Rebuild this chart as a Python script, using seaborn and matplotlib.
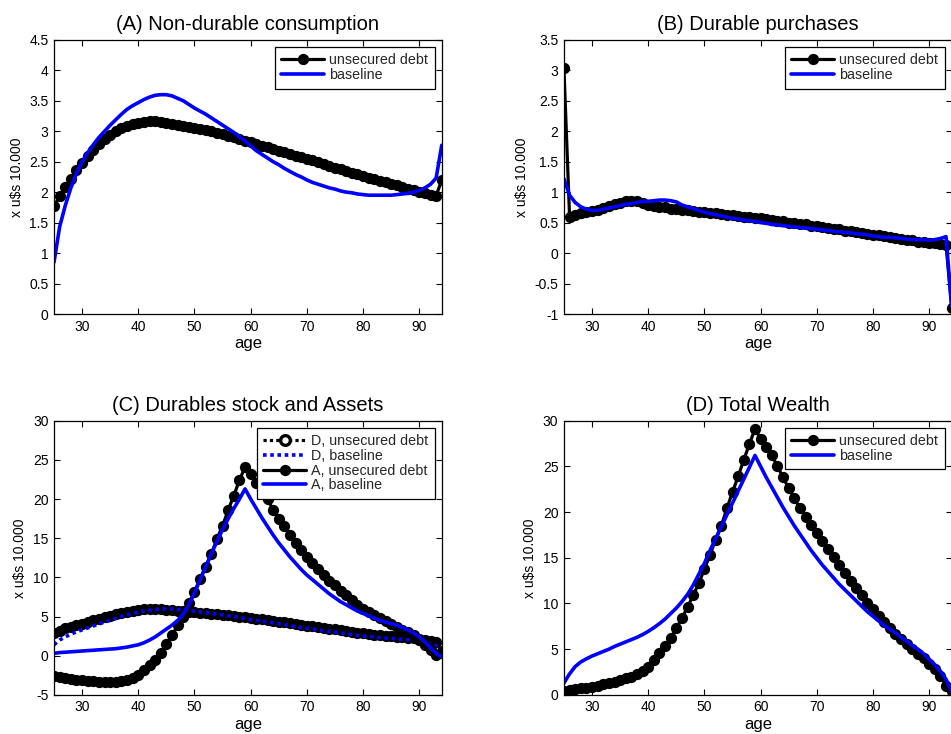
import numpy as np
import pandas as pd
import seaborn as sns
import matplotlib
matplotlib.use("Agg")
import matplotlib.pyplot as plt
from matplotlib.ticker import FuncFormatter, MultipleLocator

# Life-cycle profiles by age (values in units of 10,000 US$)
age = list(range(25, 95))

# (A) Non-durable consumption
nd_unsecured = [1.77, 1.93, 2.08, 2.22, 2.36, 2.48, 2.60, 2.70, 2.79, 2.87,
                2.94, 3.00, 3.05, 3.09, 3.12, 3.14, 3.15, 3.16, 3.16, 3.15,
                3.13, 3.12, 3.10, 3.09, 3.07, 3.06, 3.04, 3.02, 3.00, 2.97,
                2.95, 2.92, 2.90, 2.87, 2.84, 2.82, 2.79, 2.76, 2.74, 2.71,
                2.68, 2.66, 2.63, 2.60, 2.57, 2.55, 2.52, 2.49, 2.46, 2.43,
                2.40, 2.38, 2.35, 2.32, 2.29, 2.27, 2.24, 2.21, 2.19, 2.16,
                2.14, 2.11, 2.09, 2.06, 2.04, 2.01, 1.99, 1.96, 1.94, 2.20]
nd_baseline = [0.85, 1.43, 1.78, 2.07, 2.31, 2.50, 2.65, 2.78, 2.90, 3.00,
               3.10, 3.19, 3.28, 3.36, 3.42, 3.47, 3.52, 3.56, 3.59, 3.60,
               3.60, 3.58, 3.54, 3.50, 3.44, 3.38, 3.33, 3.28, 3.22, 3.16,
               3.10, 3.04, 2.98, 2.91, 2.84, 2.76, 2.68, 2.62, 2.56, 2.50,
               2.45, 2.39, 2.34, 2.29, 2.25, 2.20, 2.16, 2.13, 2.10, 2.07,
               2.05, 2.02, 2.00, 1.99, 1.97, 1.96, 1.95, 1.95, 1.95, 1.95,
               1.95, 1.96, 1.97, 1.98, 2.00, 2.03, 2.07, 2.13, 2.23, 2.77]

# (B) Durable purchases
dp_unsecured = [3.03, 0.60, 0.63, 0.65, 0.67, 0.69, 0.71, 0.74, 0.77, 0.80,
                0.83, 0.85, 0.86, 0.85, 0.82, 0.79, 0.77, 0.76, 0.75, 0.73,
                0.72, 0.71, 0.70, 0.69, 0.68, 0.67, 0.66, 0.65, 0.64, 0.63,
                0.62, 0.61, 0.60, 0.59, 0.58, 0.57, 0.56, 0.54, 0.53, 0.52,
                0.50, 0.49, 0.48, 0.47, 0.45, 0.44, 0.43, 0.41, 0.40, 0.39,
                0.37, 0.36, 0.35, 0.33, 0.32, 0.30, 0.29, 0.28, 0.26, 0.25,
                0.23, 0.22, 0.21, 0.19, 0.18, 0.17, 0.16, 0.15, 0.14, -0.90]
dp_baseline = [1.22, 0.95, 0.83, 0.76, 0.72, 0.70, 0.70, 0.72, 0.74, 0.76,
               0.78, 0.80, 0.81, 0.83, 0.85, 0.85, 0.86, 0.87, 0.87, 0.86,
               0.84, 0.79, 0.76, 0.73, 0.70, 0.67, 0.65, 0.63, 0.61, 0.59,
               0.57, 0.56, 0.54, 0.53, 0.52, 0.50, 0.49, 0.47, 0.46, 0.45,
               0.44, 0.43, 0.42, 0.41, 0.40, 0.39, 0.38, 0.37, 0.36, 0.35,
               0.34, 0.33, 0.32, 0.31, 0.30, 0.28, 0.27, 0.26, 0.26, 0.25,
               0.24, 0.23, 0.22, 0.22, 0.22, 0.21, 0.22, 0.24, 0.27, -0.88]

# (C) Durables stock (D) and assets (A)
d_unsecured = [2.90, 3.20, 3.50, 3.70, 3.90, 4.10, 4.30, 4.50, 4.70, 4.90,
               5.10, 5.30, 5.50, 5.60, 5.75, 5.85, 5.90, 5.95, 5.95, 5.90,
               5.85, 5.80, 5.75, 5.70, 5.60, 5.55, 5.50, 5.40, 5.35, 5.30,
               5.20, 5.15, 5.05, 5.00, 4.90, 4.85, 4.75, 4.65, 4.55, 4.45,
               4.35, 4.25, 4.15, 4.05, 3.95, 3.85, 3.75, 3.65, 3.55, 3.45,
               3.35, 3.25, 3.15, 3.05, 2.95, 2.85, 2.80, 2.70, 2.65, 2.55,
               2.50, 2.40, 2.35, 2.25, 2.20, 2.10, 2.00, 1.90, 1.80, 0.60]
d_baseline = [1.40, 2.00, 2.40, 2.75, 3.05, 3.30, 3.55, 3.80, 4.05, 4.30,
              4.50, 4.75, 5.00, 5.20, 5.40, 5.55, 5.70, 5.80, 5.90, 5.95,
              6.00, 5.95, 5.90, 5.85, 5.75, 5.70, 5.60, 5.50, 5.40, 5.30,
              5.20, 5.10, 5.00, 4.90, 4.75, 4.60, 4.50, 4.40, 4.30, 4.20,
              4.10, 3.95, 3.85, 3.70, 3.60, 3.50, 3.40, 3.30, 3.20, 3.10,
              3.00, 2.90, 2.80, 2.70, 2.60, 2.50, 2.45, 2.40, 2.30, 2.25,
              2.20, 2.15, 2.10, 2.05, 2.00, 1.90, 1.75, 1.55, 1.25, 0.70]
a_unsecured = [-2.60, -2.75, -2.90, -3.00, -3.10, -3.15, -3.22, -3.27, -3.30, -3.32,
               -3.32, -3.30, -3.22, -3.05, -2.80, -2.45, -1.85, -1.20, -0.55, 0.30,
               1.50, 2.60, 3.90, 5.00, 6.70, 8.15, 9.85, 11.30, 13.00, 14.90,
               16.60, 18.60, 20.45, 22.40, 24.10, 23.20, 22.00, 21.20, 20.00, 18.60,
               17.50, 16.50, 15.40, 14.40, 13.50, 12.60, 11.80, 11.10, 10.30, 9.60,
               9.00, 8.30, 7.70, 7.10, 6.50, 6.00, 5.60, 5.20, 4.80, 4.40,
               4.00, 3.70, 3.30, 3.00, 2.60, 2.00, 1.40, 0.70, 0.10, 0.40]
a_baseline = [0.30, 0.40, 0.45, 0.50, 0.55, 0.60, 0.65, 0.70, 0.75, 0.80,
              0.85, 0.90, 1.00, 1.10, 1.25, 1.40, 1.65, 2.00, 2.40, 2.90,
              3.40, 3.90, 4.50, 5.30, 6.50, 8.00, 9.70, 11.40, 13.00, 14.60,
              16.10, 17.50, 18.80, 20.00, 21.30, 20.00, 18.80, 17.60, 16.50, 15.40,
              14.40, 13.50, 12.60, 11.80, 11.00, 10.30, 9.70, 9.10, 8.50, 7.90,
              7.40, 6.90, 6.50, 6.10, 5.70, 5.40, 5.10, 4.80, 4.50, 4.30,
              4.10, 3.90, 3.60, 3.30, 2.90, 2.40, 1.80, 1.00, 0.30, -0.10]

# (D) Total wealth
w_unsecured = [0.45, 0.55, 0.62, 0.70, 0.80, 0.90, 1.02, 1.15, 1.30, 1.45,
               1.62, 1.80, 2.00, 2.25, 2.65, 3.10, 3.80, 4.55, 5.30, 6.20,
               7.30, 8.40, 9.60, 10.90, 12.20, 13.80, 15.30, 17.00, 18.50, 20.40,
               22.20, 23.90, 25.70, 27.45, 29.10, 28.00, 27.10, 26.20, 25.00, 23.80,
               22.60, 21.50, 20.40, 19.50, 18.60, 17.70, 16.80, 15.95, 15.10, 14.20,
               13.30, 12.50, 11.70, 10.90, 10.10, 9.35, 8.65, 8.00, 7.30, 6.70,
               6.15, 5.60, 5.00, 4.50, 4.00, 3.40, 2.80, 2.10, 1.00, 0.40]
w_baseline = [1.30, 2.30, 3.10, 3.60, 3.95, 4.25, 4.50, 4.75, 5.00, 5.30,
              5.55, 5.80, 6.05, 6.30, 6.60, 6.95, 7.35, 7.80, 8.30, 8.90,
              9.50, 10.20, 11.00, 12.00, 13.20, 14.40, 15.80, 17.10, 18.40, 19.70,
              21.00, 22.30, 23.60, 24.90, 26.20, 25.00, 23.80, 22.70, 21.60, 20.50,
              19.50, 18.50, 17.60, 16.70, 15.80, 15.00, 14.20, 13.50, 12.80, 12.10,
              11.50, 10.90, 10.30, 9.70, 9.10, 8.60, 8.10, 7.60, 7.20, 6.80,
              6.30, 5.90, 5.40, 5.00, 4.50, 3.90, 3.30, 2.60, 1.70, 0.40]

sns.set_theme(style="white")
plt.rcParams["font.family"] = ["Liberation Sans", "DejaVu Sans"]
plt.rcParams["axes.edgecolor"] = "black"
plt.rcParams["axes.linewidth"] = 0.9

BLACK_LW = 2.3
BLUE_LW = 2.6
BLUE = "#0000ff"

fig = plt.figure(figsize=(9.51, 7.34), dpi=100)
w, h = 0.4077, 0.3735
axA = fig.add_axes([0.0568, 0.5722, w, h])
axB = fig.add_axes([0.5930, 0.5722, w, h])
axC = fig.add_axes([0.0568, 0.0533, w, h])
axD = fig.add_axes([0.5930, 0.0533, w, h])

marker_kw = dict(marker="o", markersize=6.3, markeredgewidth=1.8,
                 markerfacecolor="black", markeredgecolor="black")


def unsecured(ax, y, label, ls="-"):
    sns.lineplot(x=age, y=y, ax=ax, color="black", lw=BLACK_LW,
                 linestyle=ls, label=label, **marker_kw)


def baseline(ax, y, label, ls="-"):
    sns.lineplot(x=age, y=y, ax=ax, color=BLUE, lw=BLUE_LW,
                 linestyle=ls, label=label)


unsecured(axA, nd_unsecured, "unsecured debt")
baseline(axA, nd_baseline, "baseline")

unsecured(axB, dp_unsecured, "unsecured debt")
baseline(axB, dp_baseline, "baseline")

dotted = (0, (1, 1))
unsecured(axC, d_unsecured, "D, unsecured debt", ls=dotted)
baseline(axC, d_baseline, "D, baseline", ls=dotted)
unsecured(axC, a_unsecured, "A, unsecured debt")
baseline(axC, a_baseline, "A, baseline")

unsecured(axD, w_unsecured, "unsecured debt")
baseline(axD, w_baseline, "baseline")

fmt = FuncFormatter(lambda v, pos: "%g" % round(v, 6))
panels = [
    (axA, "(A) Non-durable consumption", (0, 4.5), 0.5),
    (axB, "(B) Durable purchases", (-1, 3.5), 0.5),
    (axC, "(C) Durables stock and Assets", (-5, 30), 5),
    (axD, "(D) Total Wealth", (0, 30), 5),
]
for ax, title, ylim, step in panels:
    ax.set_xlim(25, 94)
    ax.set_ylim(*ylim)
    ax.xaxis.set_major_locator(MultipleLocator(10))
    ax.yaxis.set_major_locator(MultipleLocator(step))
    ax.yaxis.set_major_formatter(fmt)
    ax.xaxis.set_major_formatter(fmt)
    ax.tick_params(direction="in", length=4, width=0.8, top=True, right=True,
                   bottom=True, left=True, labelsize=10, colors="black", pad=4)
    ax.set_title(title, fontsize=14.5, pad=7, color="black")
    ax.set_xlabel("age", fontsize=12, labelpad=2, color="black")
    ax.set_ylabel("x u$s 10.000", fontsize=10, labelpad=4, color="black")
    for s in ax.spines.values():
        s.set_visible(True)
        s.set_color("black")
    handles, labels = ax.get_legend_handles_labels()
    leg = ax.legend(handles, labels, loc="upper right", fontsize=10.3,
                    frameon=True, fancybox=False, edgecolor="black",
                    framealpha=1, handlelength=3.0, handletextpad=0.35,
                    borderpad=0.45, labelspacing=0.05, borderaxespad=0.5,
                    numpoints=1)
    leg.get_frame().set_linewidth(0.9)
    # dotted durables-stock entry is shown with an open circle
    for hdl, lab in zip(leg.legend_handles, labels):
        if lab == "D, unsecured debt":
            hdl.set_markerfacecolor("white")
            hdl.set_markersize(7)
            hdl.set_markeredgewidth(2.4)

fig.savefig("out.png", dpi=100)
